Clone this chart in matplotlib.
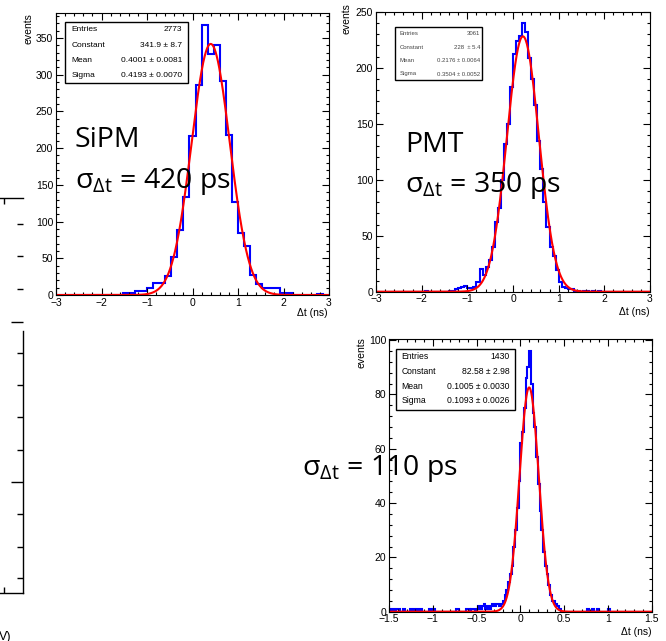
import numpy as np
import matplotlib
matplotlib.use("Agg")
import matplotlib.pyplot as plt
from matplotlib.patches import Rectangle
from matplotlib.ticker import MultipleLocator, FuncFormatter, FixedLocator

W, H = 666, 641

plt.rcParams['font.family'] = ['Liberation Sans', 'DejaVu Sans']
plt.rcParams['mathtext.fontset'] = 'custom'
plt.rcParams['mathtext.rm'] = 'Open Sans'
plt.rcParams['mathtext.it'] = 'Open Sans:italic'

## SiPM: 45 bins from -3 to 3 ns
sipm_counts = [0, 0, 0, 0, 0, 0, 0, 0, 0, 0,
               0, 3, 3, 5, 5, 10, 16, 16, 26, 52,
               89, 134, 216, 286, 367, 328, 341, 291, 218, 127,
               84, 67, 27, 15, 9, 9, 9, 3, 3, 0,
               0, 0, 0, 2, 0]
sipm_fit = (341.9, 0.4001, 0.4193)   # constant, mean, sigma
sipm_stats = [("Entries", "2773"), ("Constant", "341.9 \u00b1 8.7"),
              ("Mean", "0.4001 \u00b1 0.0081"), ("Sigma", "0.4193 \u00b1 0.0070")]

## PMT: 90 bins from -3 to 3 ns
pmt_counts = [0, 0, 0, 0, 0, 0, 0, 0, 0, 0,
              0, 0, 0, 0, 0, 0, 1, 0, 0, 0,
              0, 0, 0, 0, 1, 1, 2, 3, 4, 5,
              3, 3, 4, 9, 20, 15, 22, 28, 40, 62,
              75, 100, 132, 150, 183, 212, 224, 228, 240, 232,
              209, 190, 167, 135, 110, 80, 58, 40, 32, 19,
              9, 4, 3, 2, 2, 1, 1, 0, 1, 1,
              0, 1, 0, 1, 0, 0, 0, 0, 0, 0,
              0, 0, 0, 0, 0, 0, 0, 0, 0, 0]
pmt_fit = (228.0, 0.2176, 0.3504)
pmt_stats = [("Entries", "3061"), ("Constant", "228  \u00b1 5.4"),
             ("Mean", "0.2176 \u00b1 0.0064"), ("Sigma", "0.3504 \u00b1 0.0052")]

## third detector: 150 bins from -1.5 to 1.5 ns
fast_counts = [1, 0, 1, 0, 1, 1, 0, 0, 1, 0,
               0, 0, 1, 0, 1, 0, 1, 0, 1, 0,
               0, 0, 0, 1, 0, 1, 0, 0, 0, 0,
               0, 0, 0, 0, 0, 0, 0, 0, 1, 1,
               0, 0, 0, 0, 1, 1, 0, 1, 1, 0,
               1, 2, 1, 2, 3, 1, 2, 1, 2, 3,
               2, 3, 3, 2, 3, 4, 6, 8, 11, 14,
               17, 24, 30, 38, 48, 62, 66, 75, 86, 90,
               96, 84, 73, 68, 57, 47, 37, 30, 22, 17,
               14, 10, 6, 4, 4, 3, 2, 1, 0, 0,
               0, 0, 0, 0, 0, 0, 0, 0, 0, 0,
               0, 0, 0, 1, 0, 0, 1, 0, 0, 1,
               0, 0, 0, 0, 0, 1, 0, 0, 0, 0,
               0, 0, 0, 0, 0, 0, 0, 0, 0, 0,
               0, 0, 0, 0, 0, 0, 0, 0, 0, 0]
fast_fit = (82.58, 0.1005, 0.1093)
fast_stats = [("Entries", "1430"), ("Constant", "82.58 \u00b1 2.98"),
              ("Mean", "0.1005 \u00b1 0.0030"), ("Sigma", "0.1093 \u00b1 0.0026")]


fig = plt.figure(figsize=(W / 100, H / 100), dpi=100)


def px_axes(l, t, r, b):
    return fig.add_axes([l / W, 1 - b / H, (r - l) / W, (b - t) / H])


def minus_fmt(v, pos):
    return ("%g" % v).replace("-", "\u2212")


def root_style(ax, xmaj, xmin, ymaj, ymin):
    ax.xaxis.set_major_locator(MultipleLocator(xmaj))
    ax.xaxis.set_minor_locator(MultipleLocator(xmin))
    ax.yaxis.set_major_locator(MultipleLocator(ymaj))
    ax.yaxis.set_minor_locator(MultipleLocator(ymin))
    ax.xaxis.set_major_formatter(FuncFormatter(minus_fmt))
    ax.tick_params(which="both", direction="in", top=True, right=True,
                   labelsize=7.5, width=0.8, pad=2)
    ax.tick_params(which="major", length=5)
    ax.tick_params(which="minor", length=2.5)
    for s in ax.spines.values():
        s.set_linewidth(0.8)


def draw_panel(ax, counts, lo, hi, ymax, fit):
    edges = np.linspace(lo, hi, len(counts) + 1)
    ax.stairs(counts, edges, color="#0000ff", lw=1.5)
    xs = np.linspace(lo, hi, 800)
    c, m, s = fit
    ax.plot(xs, c * np.exp(-0.5 * ((xs - m) / s) ** 2), color="#ff0000", lw=1.5)
    ax.set_xlim(lo, hi)
    ax.set_ylim(0, ymax)


def stat_box(ax, box, rows, label_x, value_x, rows_y, fs, color="black"):
    x0, y0, x1, y1 = box
    ax.add_patch(Rectangle((x0, y0), x1 - x0, y1 - y0, transform=ax.transAxes,
                           fc="white", ec="black", lw=1.0, zorder=5))
    for (lab, val), y in zip(rows, rows_y):
        ax.text(label_x, y, lab, transform=ax.transAxes, fontsize=fs,
                color=color, ha="left", va="center", zorder=6)
        ax.text(value_x, y, val, transform=ax.transAxes, fontsize=fs,
                color=color, ha="right", va="center", zorder=6)


def labels(ax, ylab_xy, xlab_xy):
    ax.set_ylabel("events", loc="top", fontsize=7.5)
    ax.yaxis.set_label_coords(*ylab_xy)
    ax.set_xlabel("\u0394t (ns)", loc="right", fontsize=7.5)
    ax.xaxis.set_label_coords(*xlab_xy)


## SiPM panel
ax1 = px_axes(56, 13, 329, 295)
draw_panel(ax1, sipm_counts, -3, 3, 384, sipm_fit)
root_style(ax1, 1, 0.2, 50, 10)
labels(ax1, (-0.084, 1.0), (0.996, -0.046))
stat_box(ax1, (0.033, 0.751, 0.482, 0.967), sipm_stats, 0.0575, 0.4615,
         [0.940, 0.884, 0.830, 0.777], 6)

## PMT panel
ax2 = px_axes(376, 11.7, 650, 291.7)
draw_panel(ax2, pmt_counts, -3, 3, 250, pmt_fit)
root_style(ax2, 1, 0.2, 50, 10)
labels(ax2, (-0.088, 1.03), (1.0, -0.055))
stat_box(ax2, (0.069, 0.756, 0.386, 0.946), pmt_stats, 0.085, 0.380,
         [0.923, 0.873, 0.825, 0.7775], 4.3, color="#444444")

## third panel
ax3 = px_axes(389, 339.3, 651.7, 611.7)
draw_panel(ax3, fast_counts, -1.5, 1.5, 100.3, fast_fit)
root_style(ax3, 0.5, 0.1, 20, 4)
labels(ax3, (-0.084, 1.008), (1.0, -0.055))
stat_box(ax3, (0.0266, 0.7405, 0.4796, 0.9633), fast_stats, 0.0483, 0.458,
         [0.936, 0.881, 0.826, 0.7735], 6.2)

## big slide annotations
big = dict(fontsize=20.5, family="Open Sans", color="black", va="baseline", ha="left")
fig.text(75 / W, 1 - 147 / H, "SiPM", **big)
fig.text(75 / W, 1 - 188 / H, r"$\mathrm{\sigma_{\Delta t}}$ = 420 ps", **big)
fig.text(405 / W, 1 - 151.7 / H, "PMT", **big)
fig.text(405 / W, 1 - 191.7 / H, r"$\mathrm{\sigma_{\Delta t}}$ = 350 ps", **big)
fig.text(302 / W, 1 - 475 / H, r"$\mathrm{\sigma_{\Delta t}}$ = 110 ps", **big)

## clipped remains of a neighbouring plot on the left edge
axL = fig.add_axes([0, 1 - 593.3 / H, 22.7 / W, (593.3 - 197.7) / H])
axL.set_xlim(0, 22.7)
axL.set_ylim(593.3, 197.7)
axL.patch.set_visible(False)
axL.spines["left"].set_visible(False)
axL.spines["right"].set_bounds(331, 593.3)
for s in axL.spines.values():
    s.set_linewidth(1.0)
axL.yaxis.tick_right()
axL.yaxis.set_major_locator(FixedLocator([321.7, 482.3]))
axL.yaxis.set_minor_locator(FixedLocator([224, 256, 288.5, 353, 385, 417,
                                          449.5, 514, 546.5, 578]))
axL.xaxis.set_major_locator(FixedLocator([4]))
axL.xaxis.set_minor_locator(FixedLocator([]))
axL.tick_params(which="both", direction="in", top=True, bottom=True,
                labelleft=False, labelright=False, labelbottom=False,
                width=1.0)
axL.tick_params(axis="y", which="major", length=9)
axL.tick_params(axis="y", which="minor", length=4.5)
axL.tick_params(axis="x", which="major", length=4)
fig.text(-1 / W, 1 - 631 / H, "V)", fontsize=9, va="top", ha="left")

fig.savefig("out.png", dpi=100)
